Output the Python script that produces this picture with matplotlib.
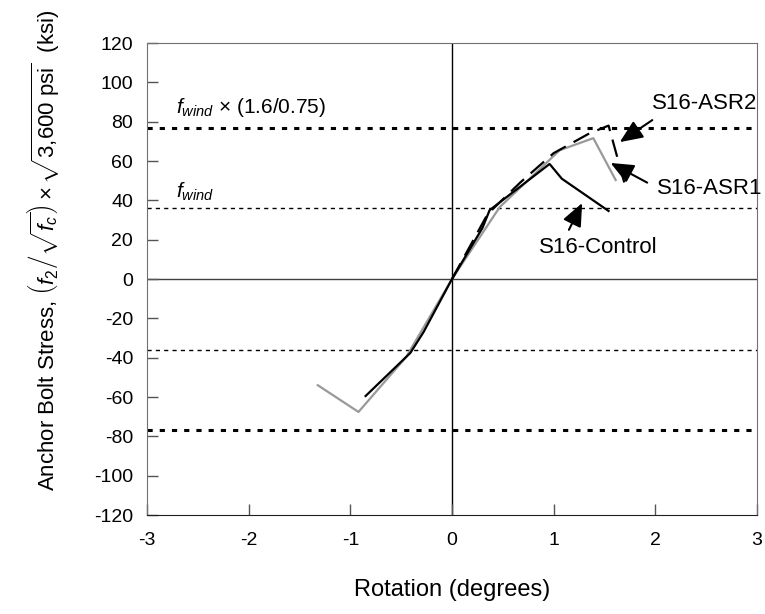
import matplotlib
matplotlib.use('Agg')
import matplotlib.pyplot as plt

plt.rcParams['font.family'] = ['Liberation Sans', 'DejaVu Sans']
plt.rcParams['mathtext.fontset'] = 'custom'
plt.rcParams['mathtext.rm'] = 'Liberation Sans'
plt.rcParams['mathtext.it'] = 'Liberation Sans:italic'
plt.rcParams['axes.unicode_minus'] = False

# rotation (degrees) vs anchor bolt stress (ksi)
control_x = [-0.85, -0.41, -0.28, 0.0, 0.30, 0.37, 0.96, 1.08, 1.54]
control_y = [-59.5, -37.6, -27.0, 0.0, 26.0, 35.0, 58.5, 51.0, 34.6]

asr1_x = [-1.32, -0.92, -0.45, 0.0, 0.47, 1.06, 1.39, 1.61]
asr1_y = [-54.0, -67.6, -39.6, 0.0, 36.6, 65.5, 71.6, 50.3]

asr2_x = [0.0, 0.35, 0.67, 1.0, 1.35, 1.54, 1.70]
asr2_y = [0.0, 33.0, 49.0, 64.0, 74.0, 78.0, 48.0]

f_wind = 36.0
f_wind_fact = f_wind * 1.6 / 0.75

# specimen labels: (text, text position, arrow tail, arrow head)
labels = ['S16-ASR2', 'S16-ASR1', 'S16-Control']
label_pos = [(1.97, 89.0), (2.02, 46.0), (0.86, 15.8)]
arrow_tail = [(1.97, 80.8), (1.92, 49.0), (1.15, 25.0)]
arrow_head = [(1.65, 69.6), (1.56, 59.0), (1.28, 38.6)]

fig = plt.figure(figsize=(7.65, 6.14), dpi=100)
ax = fig.add_axes([147/765, 1 - 515/614, (757-147)/765, (515-43)/614])

# reference lines
ax.axhline(0, color='#404040', lw=1.0, zorder=1)
ax.axvline(0, color='black', lw=1.0, zorder=1)
for s in [1, -1]:
	ax.axhline(s*f_wind, color='black', lw=1.0, ls=(0, (3, 3)), zorder=1)
	ax.axhline(s*f_wind_fact, color='black', lw=2.2, ls=(0, (1.7, 2.3)), zorder=1)

# test curves
ax.plot(asr1_x, asr1_y, color='#999999', lw=1.6, zorder=2)
ax.plot(control_x, control_y, color='black', lw=1.6, zorder=3)
ax.plot(asr2_x, asr2_y, color='black', lw=1.6, ls=(0, (8, 4)), zorder=3)

# labels for reference lines
ax.text(-2.71, 81.5, r'$f_{wind}$' + ' \u00d7 (1.6/0.75)', fontsize=15, va='bottom')
ax.text(-2.71, 38.5, r'$f_{wind}$', fontsize=15, va='bottom')

# specimen labels with arrows
arrow = dict(arrowstyle='-|>,head_length=1.4,head_width=0.6', color='black', lw=1.5,
	shrinkA=0, shrinkB=0)
for lab, pos, tail, head in zip(labels, label_pos, arrow_tail, arrow_head):
	ax.text(pos[0], pos[1], lab, fontsize=16, ha='left', va='center')
	ax.annotate('', xy=head, xytext=tail, arrowprops=arrow)

ax.set_xlim(-3, 3)
ax.set_ylim(-120, 120)
ax.set_xticks(range(-3, 4))
ax.set_yticks(range(-120, 121, 20))
ax.tick_params(direction='in', length=8, width=1, color='#555555', labelsize=14, pad=10)
ax.tick_params(axis='x', pad=12)
for sp in ['top', 'left', 'right']:
	ax.spines[sp].set_color('#707070')
ax.spines['bottom'].set_color('#202020')

ax.set_xlabel('Rotation (degrees)', fontsize=17)
ax.xaxis.set_label_coords(0.5, -0.135)
ax.set_ylabel(r'Anchor Bolt Stress, $\left( f_2 \left/ \sqrt{f_c} \right. \right) \times \sqrt{3{,}600\ \mathrm{psi}}$  (ksi)',
	fontsize=16)
ax.yaxis.set_label_coords(-0.14, 0.56)

fig.savefig('out.png', dpi=100)
